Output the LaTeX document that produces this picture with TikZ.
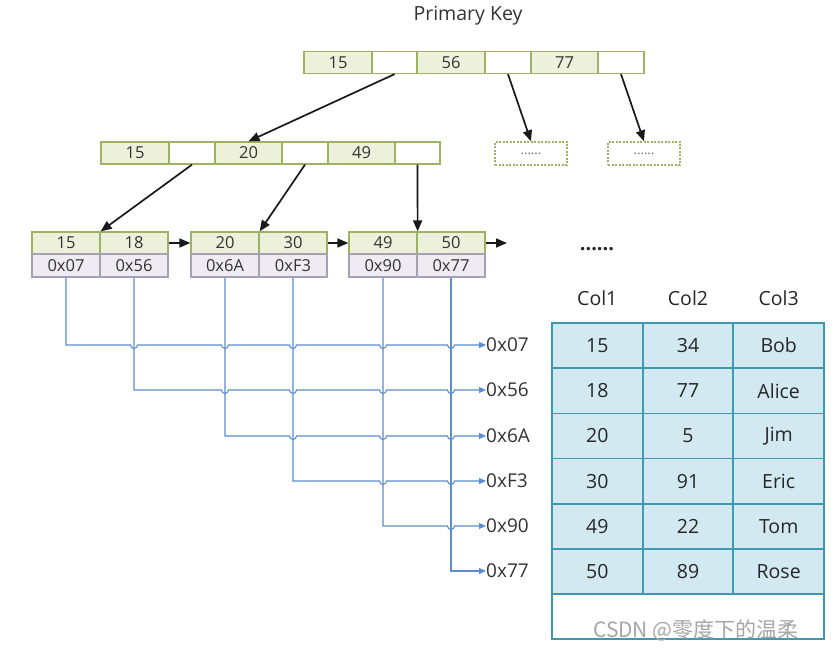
\documentclass[tikz,border=0pt]{standalone}
\usepackage{fontspec}
\setmainfont{Open Sans}
\newfontfamily\cjk{Noto Sans CJK SC}
\usetikzlibrary{arrows.meta}
\definecolor{keyfill}{HTML}{EDF1DC}
\definecolor{keydraw}{HTML}{9DB262}
\definecolor{ptrfill}{HTML}{EEEBF3}
\definecolor{ptrdraw}{HTML}{A7A1B7}
\definecolor{tabfill}{HTML}{D3E9F1}
\definecolor{tabdraw}{HTML}{3F98B0}
\definecolor{linkblue}{HTML}{5B8DD0}
\tikzset{
  keycell/.style={draw=keydraw, fill=keyfill, line width=1.3pt, rectangle, inner sep=0pt, minimum height=22pt, font=\fontsize{16.5}{16.5}\selectfont, text=black!80},
  emptycell/.style={keycell, fill=white},
  ptrcell/.style={draw=ptrdraw, fill=ptrfill, line width=1.3pt, rectangle, inner sep=0pt, minimum height=23pt, minimum width=68pt, font=\fontsize{16.5}{16.5}\selectfont, text=black!80},
  dotbox/.style={draw=keydraw, dashed, dash pattern=on 2pt off 1.5pt, line width=1.3pt, rectangle, inner sep=0pt, minimum width=72pt, minimum height=23pt, font=\fontsize{13}{13}\selectfont, text=black!60},
  treearrow/.style={line width=1.7pt, draw=black!90, -{Triangle[length=11pt,width=9pt]}},
  bl/.style={draw=linkblue, line width=1.1pt},
  blarrow/.style={bl, -{Triangle[length=7pt,width=6pt]}},
  addr/.style={anchor=west, inner sep=0pt, font=\fontsize{19}{19}\selectfont, text=black!80},
  tcell/.style={draw=tabdraw, fill=tabfill, line width=1.7pt, rectangle, inner sep=0pt, minimum width=90.67pt, minimum height=45.17pt, font=\fontsize{19.5}{19.5}\selectfont, text=black!85},
  hdr/.style={font=\fontsize{19.5}{19.5}\selectfont, text=black!85, inner sep=0pt},
}
\begin{document}
\begin{tikzpicture}[x=1pt,y=-1pt]
\useasboundingbox[fill=white] (0,0) rectangle (839,652);

% title
\node[font=\fontsize{19.5}{19.5}\selectfont, text=black!80] (title) at (468,16) {Primary Key};

% root node
\node[keycell, minimum width=68pt] (r1) at (338,62.5) {15};
\node[emptycell, minimum width=45pt] (r2) at (394.5,62.5) {};
\node[keycell, minimum width=68pt] (r3) at (451,62.5) {56};
\node[emptycell, minimum width=46pt] (r4) at (508,62.5) {};
\node[keycell, minimum width=67pt] (r5) at (564.5,62.5) {77};
\node[emptycell, minimum width=46pt] (r6) at (621,62.5) {};

% second level
\node[keycell, minimum width=68pt] (m1) at (135,153) {15};
\node[emptycell, minimum width=46pt] (m2) at (192,153) {};
\node[keycell, minimum width=67pt] (m3) at (248.5,153) {20};
\node[emptycell, minimum width=46pt] (m4) at (305,153) {};
\node[keycell, minimum width=67pt] (m5) at (361.5,153) {49};
\node[emptycell, minimum width=45pt] (m6) at (417.5,153) {};

% dotted boxes
\node[dotbox] (d1) at (531,153.5) {......};
\node[dotbox] (d2) at (644,153.5) {......};

% leaves: keys
\node[keycell, minimum width=68pt] (k1) at (66,243) {15};
\node[keycell, minimum width=68pt] (k2) at (134,243) {18};
\node[keycell, minimum width=68pt] (k3) at (225,243) {20};
\node[keycell, minimum width=68pt] (k4) at (293,243) {30};
\node[keycell, minimum width=68pt] (k5) at (383,243) {49};
\node[keycell, minimum width=68pt] (k6) at (451,243) {50};
% leaves: pointers
\node[ptrcell] (c1) at (66,265.5) {0x07};
\node[ptrcell] (c2) at (134,265.5) {0x56};
\node[ptrcell] (c3) at (225,265.5) {0x6A};
\node[ptrcell] (c4) at (293,265.5) {0xF3};
\node[ptrcell] (c5) at (383,265.5) {0x90};
\node[ptrcell] (c6) at (451,265.5) {0x77};
\coordinate (next) at (507,243);

% tree arrows
\draw[treearrow] (r2.south) -- (m3.north);
\draw[treearrow] (r4.south) -- (d1.north);
\draw[treearrow] (r6.south) -- (d2.north);
\draw[treearrow] (m2.south) -- (k1.north east);
\draw[treearrow] (m4.south) -- (k3.north east);
\draw[treearrow] (m6.south) -- (k5.north east);
\draw[treearrow] (k2.east) -- (k3.west);
\draw[treearrow] (k4.east) -- (k5.west);
\draw[treearrow] (k6.east) -- (next);

% address labels
\node[addr] (p1) at (486,345) {0x07};
\node[addr] (p2) at (486,390) {0x56};
\node[addr] (p3) at (486,436) {0x6A};
\node[addr] (p4) at (486,481) {0xF3};
\node[addr] (p5) at (486,526) {0x90};
\node[addr] (p6) at (486,571) {0x77};

% blue links with hops
\def\hop{arc[start angle=180,end angle=360,radius=3.5pt]}
\draw[blarrow] (c1.south) -- (66,345) -- (130.5,345) \hop -- (221.5,345) \hop -- (289.5,345) \hop -- (379.5,345) \hop -- (447.5,345) \hop -- (p1.west);
\draw[blarrow] (c2.south) -- (134,390) -- (221.5,390) \hop -- (289.5,390) \hop -- (379.5,390) \hop -- (447.5,390) \hop -- (p2.west);
\draw[blarrow] (c3.south) -- (225,436) -- (289.5,436) \hop -- (379.5,436) \hop -- (447.5,436) \hop -- (p3.west);
\draw[blarrow] (c4.south) -- (293,481) -- (379.5,481) \hop -- (447.5,481) \hop -- (p4.west);
\draw[blarrow] (c5.south) -- (383,526) -- (447.5,526) \hop -- (p5.west);
\draw[blarrow] (c6.south) -- (451,571) -- (p6.west);

% table
\node[text=black!85, font=\bfseries\fontsize{20}{20}\selectfont, inner sep=0pt] (dots) at (597,249) {......};
\node[hdr] (h1) at (597.3,298) {Col1};
\node[hdr] (h2) at (688,298) {Col2};
\node[hdr] (h3) at (778.7,298) {Col3};
\foreach \r/\a/\b/\c in {0/15/34/Bob,1/18/77/Alice,2/20/5/Jim,3/30/91/Eric,4/49/22/Tom,5/50/89/Rose}{
  \node[tcell] (t\r a) at (597.3,{345.6+45.17*\r}) {\a};
  \node[tcell] (t\r b) at (688,{345.6+45.17*\r}) {\b};
  \node[tcell] (t\r c) at (778.7,{345.6+45.17*\r}) {\c};
}
\node[tcell, fill=white, minimum width=272pt] (tlast) at (688,616.6) {};

% watermark
\node[anchor=west, inner sep=0pt, text=black!35, font=\cjk\fontsize{21}{21}\selectfont] (wm) at (593,630) {CSDN @零度下的温柔};
\end{tikzpicture}
\end{document}
